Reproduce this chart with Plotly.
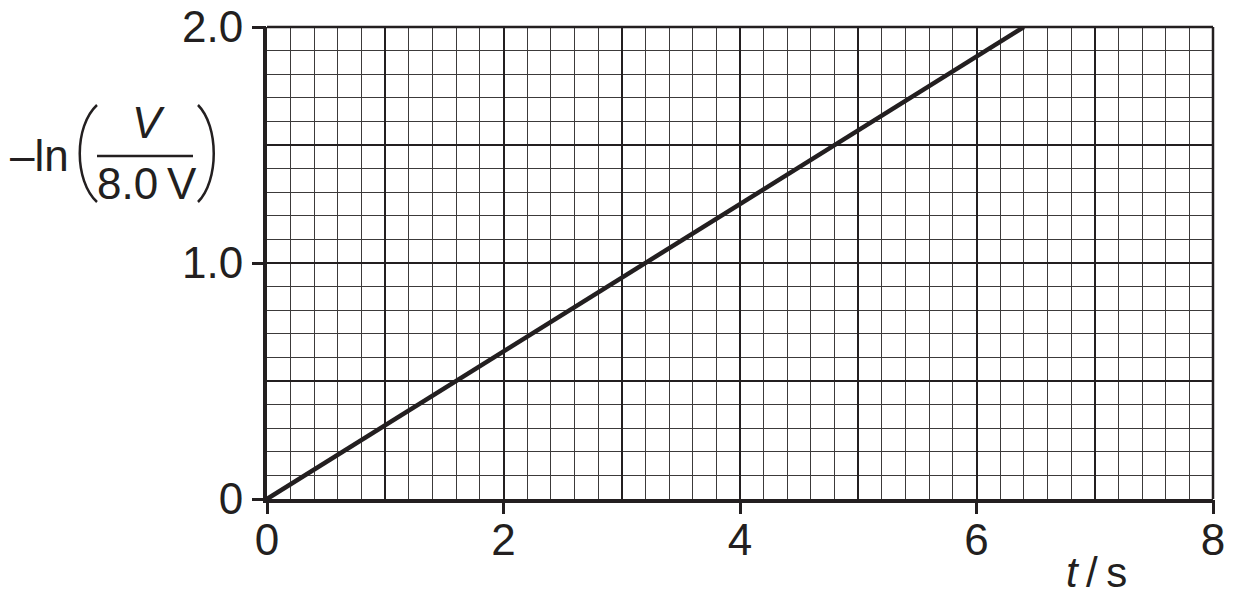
import plotly.graph_objects as go

# ── DATA ──────────────────────────────────────────────────────────────────────

T_VALUES = [0.0, 6.4]          # t / s
Y_VALUES = [0.0, 2.0]          # -ln(V / 8.0 V)

X_TICKS = [0, 2, 4, 6, 8]
X_TICK_TEXT = ["0", "2", "4", "6", "8"]
Y_TICKS = [0, 1.0, 2.0]
Y_TICK_TEXT = ["0", "1.0", "2.0"]

X_RANGE = [0, 8]
Y_RANGE = [0, 2.0]

# ── STYLE ─────────────────────────────────────────────────────────────────────

INK = "#231f20"
MINOR = "#3c3a3a"
FONT = "Liberation Sans, Arial, Helvetica, sans-serif"

W, H = 1235, 596
L, R, T, B = 267, 22, 27, 97
PW, PH = W - L - R, H - T - B


def px(x):
    return (x - L) / PW


def py(y):
    return (H - B - y) / PH


fig = go.Figure()

fig.add_trace(go.Scatter(
    x=T_VALUES, y=Y_VALUES,
    mode="lines",
    line=dict(color=INK, width=4.5),
    showlegend=False, hoverinfo="skip",
))

# invisible trace so the tick axes are drawn
fig.add_trace(go.Scatter(
    x=X_RANGE, y=Y_RANGE, xaxis="x2", yaxis="y2",
    mode="markers", marker=dict(opacity=0),
    showlegend=False, hoverinfo="skip",
))

grid_axis = dict(
    showgrid=True, gridcolor=INK, gridwidth=2,
    showticklabels=False, ticks="",
    zeroline=False, automargin=False,
    showline=True, linecolor=INK, linewidth=4,
    minor=dict(showgrid=True, gridcolor=MINOR, gridwidth=1),
    fixedrange=True,
)

tick_axis = dict(
    ticks="outside", ticklen=14, tickwidth=3, tickcolor=INK,
    showgrid=False, zeroline=False, showline=False, fixedrange=True,
    automargin=False,
    tickfont=dict(size=44, color=INK),
)

fig.update_layout(
    width=W, height=H,
    margin=dict(l=L, r=R, t=T, b=B),
    paper_bgcolor="white", plot_bgcolor="white",
    font=dict(family=FONT, size=44, color=INK),
    xaxis=dict(grid_axis, range=X_RANGE, dtick=1, minor_dtick=0.2),
    yaxis=dict(grid_axis, range=Y_RANGE, dtick=0.5, minor_dtick=0.1),
    xaxis2=dict(tick_axis, overlaying="x", anchor="y2", side="bottom", range=X_RANGE,
                tickmode="array", tickvals=X_TICKS, ticktext=X_TICK_TEXT,
                ticklabelstandoff=-12),
    yaxis2=dict(tick_axis, overlaying="y", anchor="x2", side="left", range=Y_RANGE,
                tickmode="array", tickvals=Y_TICKS, ticktext=Y_TICK_TEXT),
)

# top and right borders
fig.add_shape(type="line", xref="paper", yref="paper", x0=0, x1=1, y0=1, y1=1,
              line=dict(color=INK, width=2.5))
fig.add_shape(type="line", xref="paper", yref="paper", x0=1, x1=1, y0=0, y1=1,
              line=dict(color=INK, width=2.5))

# ── AXIS TITLES ───────────────────────────────────────────────────────────────

fig.add_annotation(text="<i>t</i>\u2009/\u2009s", x=px(1096), y=py(572), xref="paper", yref="paper",
                   showarrow=False, xanchor="center", yanchor="middle",
                   font=dict(size=42, color=INK))

# y title: –ln( V / 8.0 V )
fig.add_annotation(text="–ln", x=px(39), y=py(155), xref="paper", yref="paper",
                   showarrow=False, xanchor="center", yanchor="middle",
                   font=dict(size=44, color=INK))
fig.add_annotation(text="<i>V</i>", x=px(148), y=py(122), xref="paper", yref="paper",
                   showarrow=False, xanchor="center", yanchor="middle",
                   font=dict(size=44, color=INK))
fig.add_annotation(text="8.0\u2009V", x=px(147), y=py(183), xref="paper", yref="paper",
                   showarrow=False, xanchor="center", yanchor="middle",
                   font=dict(size=44, color=INK))
fig.add_shape(type="line", xref="paper", yref="paper",
              x0=px(97), x1=px(193), y0=py(156), y1=py(156),
              line=dict(color=INK, width=2.5))


def paren(x_end, x_bulge, y_top, y_bot):
    yt, yb = py(y_top), py(y_bot)
    q = (y_bot - y_top) * 0.22
    return (f"M {px(x_end)},{yt} "
            f"C {px(x_bulge)},{py(y_top + q)} {px(x_bulge)},{py(y_bot - q)} "
            f"{px(x_end)},{yb}")


fig.add_shape(type="path", xref="paper", yref="paper",
              path=paren(97, 74, 105, 202), line=dict(color=INK, width=2.5))
fig.add_shape(type="path", xref="paper", yref="paper",
              path=paren(198, 219, 105, 202), line=dict(color=INK, width=2.5))

# page body has a default 8px margin; drop it so the figure sits at (0, 0)
fig.write_html("out.html", config={"displayModeBar": False},
               post_script="document.body.style.margin='0';")
